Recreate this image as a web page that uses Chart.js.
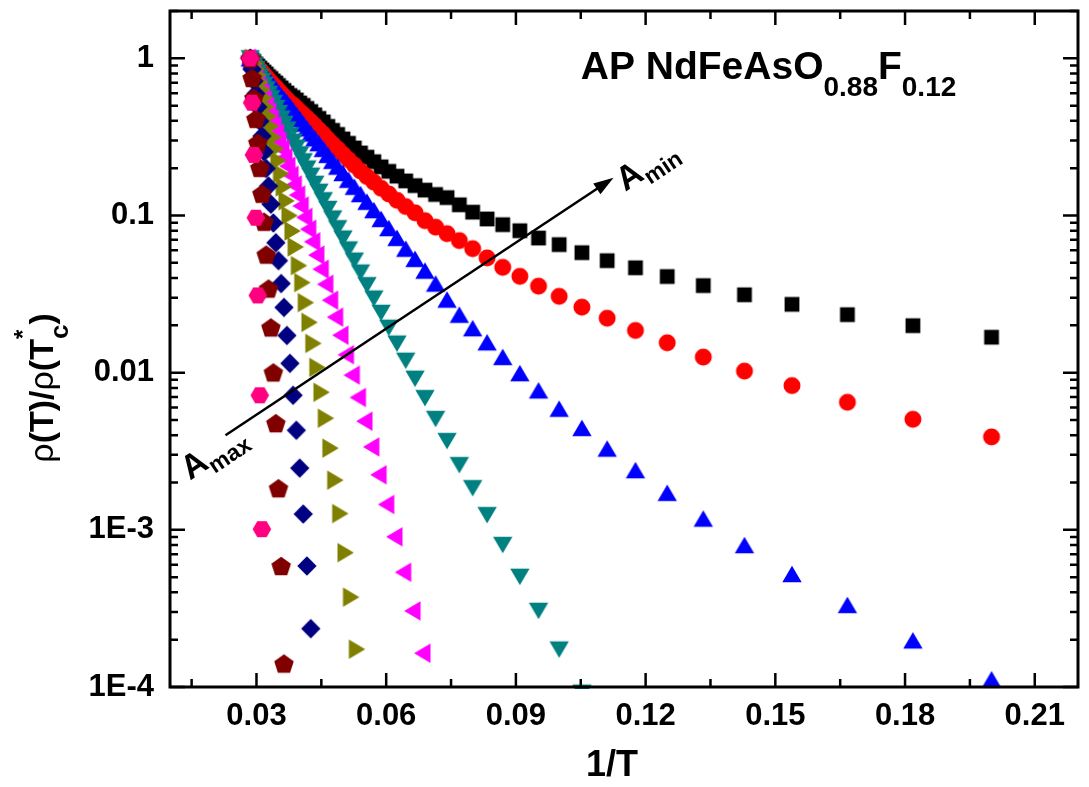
<!DOCTYPE html>
<html><head><meta charset="utf-8">
<script src="https://cdn.jsdelivr.net/npm/chart.js@4.4.1/dist/chart.umd.min.js"></script>
<style>html,body{margin:0;padding:0;background:#fff;}canvas{display:block;}</style>
</head><body>
<canvas id="c" width="1089" height="787" style="width:1089px;height:787px"></canvas>
<script>
// x values: 1/T for T = 35, 34.5, ..., 5 K
const invT = [0.028571,0.028986,0.029412,0.029851,0.030303,0.030769,0.03125,0.031746,0.032258,0.032787,
  0.033333,0.033898,0.034483,0.035088,0.035714,0.036364,0.037037,0.037736,0.038462,0.039216,
  0.04,0.040816,0.041667,0.042553,0.043478,0.044444,0.045455,0.046512,0.047619,0.04878,
  0.05,0.051282,0.052632,0.054054,0.055556,0.057143,0.058824,0.060606,0.0625,0.064516,
  0.066667,0.068966,0.071429,0.074074,0.076923,0.08,0.083333,0.086957,0.090909,0.095238,
  0.1,0.105263,0.111111,0.117647,0.125,0.133333,0.142857,0.153846,0.166667,0.181818,0.2];

const blackSquares = [1,0.975,0.947,0.920,0.894,0.868,0.843,0.818,0.795,0.766,
  0.744,0.718,0.697,0.672,0.648,0.625,0.602,0.580,0.564,0.543,
  0.520,0.502,0.480,0.459,0.437,0.415,0.394,0.369,0.348,0.328,
  0.307,0.288,0.269,0.250,0.235,0.220,0.204,0.191,0.178,0.166,
  0.155,0.145,0.136,0.130,0.117,0.105,0.095,0.0874,0.080,0.0719,
  0.0653,0.058,0.0516,0.0465,0.0409,0.0358,0.0313,0.0272,0.0234,0.0199,0.0168];
const redCircles = [1,0.970,0.938,0.905,0.874,0.844,0.815,0.787,0.760,0.727,
  0.702,0.673,0.650,0.623,0.596,0.570,0.546,0.522,0.504,0.482,
  0.458,0.438,0.416,0.395,0.372,0.350,0.329,0.305,0.284,0.265,
  0.245,0.2265,0.209,0.192,0.177,0.163,0.149,0.137,0.125,0.114,
  0.104,0.0927,0.0843,0.0766,0.0692,0.0615,0.0537,0.0468,0.0410,0.0355,
  0.0306,0.0261,0.0222,0.01856,0.01549,0.01256,0.01023,0.00827,0.00648,0.00505,0.0039];
const blueUpTriangles = [1,0.968,0.938,0.907,0.877,0.849,0.818,0.789,0.759,0.729,
  0.701,0.669,0.638,0.607,0.576,0.551,0.524,0.495,0.466,0.438,
  0.411,0.384,0.358,0.3325,0.3097,0.2886,0.2655,0.2432,0.2228,0.2047,
  0.1864,0.1688,0.1524,0.1369,0.1224,0.1082,0.0951,0.0832,0.0721,0.0615,
  0.053,0.0446,0.0369,0.0292,0.0234,0.0192,0.0156,0.0126,0.00994,0.00772,
  0.0059,0.00445,0.00329,0.0024,0.00172,0.00118,0.0008,0.000524,0.000333,0.000198,0.000112];
const tealDownTriangles = [1,0.950,0.903,0.855,0.808,0.763,0.719,0.678,0.635,0.594,
  0.557,0.519,0.483,0.449,0.414,0.383,0.352,0.324,0.295,0.270,
  0.245,0.221,0.199,0.179,0.159,0.1415,0.125,0.110,0.0956,0.0829,
  0.0713,0.0608,0.0516,0.0433,0.036,0.0296,0.024,0.0193,0.0153,0.0119,
  0.00914,0.00688,0.00507,0.00367,0.00258,0.00184,0.00124,0.0008,0.000502,0.000305,
  0.000173,0.000092];
const magentaLeftTriangles = [1,0.936,0.875,0.815,0.756,0.700,0.646,0.595,0.544,0.497,
  0.454,0.4105,0.371,0.334,0.297,0.265,0.234,0.206,0.180,0.1565,
  0.135,0.115,0.0972,0.0818,0.0681,0.056,0.0455,0.0365,0.0289,0.02255,
  0.0173,0.013,0.00964,0.00695,0.00491,0.00337,0.00224,0.00145,0.000903,0.000537,
  0.000305,0.000164];
const oliveRightTriangles = [1,0.929,0.856,0.781,0.706,0.632,0.5605,0.492,0.428,0.369,
  0.315,0.266,0.223,0.185,0.152,0.124,0.0999,0.0797,0.0631,0.048,
  0.0374,0.0279,0.0209,0.01535,0.0108,0.0075,0.00513,0.00331,0.00207,0.00127,
  0.000716,0.000373,0.000174];
const navyDiamonds = [1,0.851,0.717,0.596,0.490,0.398,0.320,0.254,0.199,0.154,
  0.118,0.0896,0.0671,0.0516,0.0369,0.026,0.01725,0.01146,0.00718,0.0043,
  0.00247,0.00126,0.000589,0.000235];
const maroonPentagons = [1,0.750,0.560,0.412,0.290,0.201,0.1375,0.0913,0.0564,0.0343,
  0.0194,0.01004,0.00477,0.00184,0.000589,0.000141];
const pinkHexagons = [1,0.522,0.243,0.0968,0.031,0.00718,0.00101];

const xTickValues = [0.03,0.06,0.09,0.12,0.15,0.18,0.21];
const xTickLabels = ['0.03','0.06','0.09','0.12','0.15','0.18','0.21'];
const xMinorTicks = [0.015,0.045,0.075,0.105,0.135,0.165,0.195];
const yTickValues = [1e-4,1e-3,0.01,0.1,1];
const yTickLabels = ['1E-4','1E-3','0.01','0.1','1'];

// annotation anchors (data coordinates)
const arrowFrom = {x:0.02284, y:0.0040};
const arrowTo = {x:0.11258, y:0.1738};
const aMaxAt = {x:0.0146, y:0.00205};
const aMinAt = {x:0.1153, y:0.1410};
const titleAt = {x:0.1050, y:0.74};

const FONT = "'Liberation Sans', Arial, Helvetica, sans-serif";
const fnt = (s, w) => `${w || 'bold'} ${s}px ${FONT}`;

function marker(shape, color) {
  const S = 28, c = document.createElement('canvas');
  c.width = S; c.height = S;
  const g = c.getContext('2d');
  const cx = S/2, cy = S/2;
  g.fillStyle = color;
  g.beginPath();
  if (shape === 'square') g.rect(cx-7.4, cy-7.4, 14.8, 14.8);
  else if (shape === 'circle') g.arc(cx, cy, 8.5, 0, Math.PI*2);
  else if (shape === 'triUp') { g.moveTo(cx, cy-8.3); g.lineTo(cx+9.7, cy+8.3); g.lineTo(cx-9.7, cy+8.3); }
  else if (shape === 'triDown') { g.moveTo(cx-9.7, cy-8.3); g.lineTo(cx+9.7, cy-8.3); g.lineTo(cx, cy+8.3); }
  else if (shape === 'triLeft') { g.moveTo(cx-10.9, cy); g.lineTo(cx+5.5, cy-9.7); g.lineTo(cx+5.5, cy+9.7); }
  else if (shape === 'triRight') { g.moveTo(cx+10.9, cy); g.lineTo(cx-5.5, cy-9.7); g.lineTo(cx-5.5, cy+9.7); }
  else if (shape === 'diamond') { g.moveTo(cx, cy-9.7); g.lineTo(cx+9.7, cy); g.lineTo(cx, cy+9.7); g.lineTo(cx-9.7, cy); }
  else if (shape === 'pentagon') {
    const R = 10.3, oy = 0.0955*R;
    for (let k=0;k<5;k++){ const a=(-90+72*k)*Math.PI/180; const px=cx+R*Math.cos(a), py=cy+oy+R*Math.sin(a); k?g.lineTo(px,py):g.moveTo(px,py); }
  } else if (shape === 'hexagon') {
    const R = 9.3;
    for (let k=0;k<6;k++){ const a=(60*k)*Math.PI/180; const px=cx+R*Math.cos(a), py=cy+R*Math.sin(a); k?g.lineTo(px,py):g.moveTo(px,py); }
  }
  g.closePath(); g.fill();
  return c;
}

const series = [
  {name:'A1', vals:blackSquares, shape:'square', color:'#000000'},
  {name:'A2', vals:redCircles, shape:'circle', color:'#FF0000'},
  {name:'A3', vals:blueUpTriangles, shape:'triUp', color:'#0000FF'},
  {name:'A4', vals:tealDownTriangles, shape:'triDown', color:'#008080'},
  {name:'A5', vals:magentaLeftTriangles, shape:'triLeft', color:'#FF00FF'},
  {name:'A6', vals:oliveRightTriangles, shape:'triRight', color:'#808000'},
  {name:'A7', vals:navyDiamonds, shape:'diamond', color:'#000080'},
  {name:'A8', vals:maroonPentagons, shape:'pentagon', color:'#800000'},
  {name:'A9', vals:pinkHexagons, shape:'hexagon', color:'#FF0080'}
];

const datasets = series.map((s, k) => ({
  label: s.name,
  data: s.vals.map((v, i) => ({x: invT[i], y: v})),
  pointStyle: marker(s.shape, s.color),
  pointRadius: 10,
  backgroundColor: s.color,
  borderColor: s.color,
  showLine: false,
  order: series.length - k,
  clip: {left: 20, top: 20, right: 20, bottom: 2}
}));

function runWidth(ctx, parts) {
  let w = 0;
  for (const p of parts) { ctx.font = fnt(p.s, p.w); if (!p.stack) w += ctx.measureText(p.t).width; }
  return w;
}
function drawRun(ctx, parts, x, y) {
  let cx = x, lastW = 0;
  for (const p of parts) {
    ctx.font = fnt(p.s, p.w);
    const w = ctx.measureText(p.t).width;
    if (p.stack) { ctx.fillText(p.t, cx - lastW, y + (p.dy || 0)); }
    else { ctx.fillText(p.t, cx, y + (p.dy || 0)); lastW = w; cx += w; }
  }
}

const decor = {
  id: 'decor',
  afterDatasetsDraw(chart) {
    const {ctx, chartArea: a, scales: {x, y}} = chart;
    ctx.save();
    ctx.strokeStyle = '#000'; ctx.fillStyle = '#000';
    // ticks (inward, all four sides)
    ctx.lineWidth = 2.5;
    ctx.beginPath();
    const xt = (v, len) => { const p = x.getPixelForValue(v); ctx.moveTo(p, a.bottom); ctx.lineTo(p, a.bottom - len); ctx.moveTo(p, a.top); ctx.lineTo(p, a.top + len); };
    xTickValues.forEach(v => xt(v, 14));
    xMinorTicks.forEach(v => xt(v, 8));
    const yt = (v, len) => { const p = y.getPixelForValue(v); ctx.moveTo(a.left, p); ctx.lineTo(a.left + len, p); ctx.moveTo(a.right, p); ctx.lineTo(a.right - len, p); };
    yTickValues.forEach(v => yt(v, 15));
    yTickValues.forEach(d => { for (let m = 2; m <= 9; m++) { const v = d * m; if (v <= y.max) yt(v, 8); } });
    ctx.stroke();
    // frame
    ctx.lineWidth = 3;
    ctx.strokeRect(a.left, a.top, a.right - a.left, a.bottom - a.top);

    // arrow
    const sx = x.getPixelForValue(arrowFrom.x), sy = y.getPixelForValue(arrowFrom.y);
    const ex = x.getPixelForValue(arrowTo.x), ey = y.getPixelForValue(arrowTo.y);
    const ang = Math.atan2(ey - sy, ex - sx);
    const hl = 20, hw = 6.5;
    const bx = ex - hl * Math.cos(ang), by = ey - hl * Math.sin(ang);
    ctx.lineWidth = 2.5;
    ctx.beginPath(); ctx.moveTo(sx, sy); ctx.lineTo(bx + 2*Math.cos(ang), by + 2*Math.sin(ang)); ctx.stroke();
    ctx.beginPath();
    ctx.moveTo(ex, ey);
    ctx.lineTo(bx + hw * Math.sin(ang), by - hw * Math.cos(ang));
    ctx.lineTo(bx - hw * Math.sin(ang), by + hw * Math.cos(ang));
    ctx.closePath(); ctx.fill();

    ctx.textAlign = 'left'; ctx.textBaseline = 'alphabetic';
    // A_max / A_min
    const lab = (pt, sub) => {
      ctx.save();
      ctx.translate(x.getPixelForValue(pt.x), y.getPixelForValue(pt.y));
      ctx.rotate(ang);
      drawRun(ctx, [{t:'A', s:34}, {t:sub, s:23, dy:8}], 0, 0);
      ctx.restore();
    };
    lab(aMaxAt, 'max');
    lab(aMinAt, 'min');

    // title
    drawRun(ctx, [{t:'AP NdFeAsO', s:39}, {t:'0.88', s:28, dy:17}, {t:'F', s:39}, {t:'0.12', s:28, dy:17}],
      x.getPixelForValue(titleAt.x), y.getPixelForValue(titleAt.y));

    // axis titles
    ctx.font = fnt(36); ctx.textAlign = 'center';
    ctx.fillText('1/T', 612, 776);
    ctx.textAlign = 'left';
    const yParts = [{t:'\u03C1', s:34, w:'normal'}, {t:'(T)/', s:34}, {t:'\u03C1', s:34, w:'normal'}, {t:'(T', s:34},
      {t:'c', s:26, dy:15}, {t:'*', s:24, dy:-22, stack:true}, {t:')', s:34}];
    const W = runWidth(ctx, yParts);
    ctx.save();
    ctx.translate(53, 388);
    ctx.rotate(-Math.PI / 2);
    drawRun(ctx, yParts, -W / 2, 0);
    ctx.restore();
    ctx.restore();
  }
};

new Chart(document.getElementById('c'), {
  type: 'scatter',
  data: {datasets},
  options: {
    responsive: false,
    animation: false,
    events: [],
    layout: {padding: {left: 0, top: 9, right: 8, bottom: 0}},
    plugins: {legend: {display: false}, tooltip: {enabled: false}},
    scales: {
      x: {
        type: 'linear', min: 0.01, max: 0.22,
        grid: {display: false, drawTicks: false},
        border: {display: false},
        afterBuildTicks: s => { s.ticks = xTickValues.map(v => ({value: v})); },
        afterFit: s => { s.height = 100; s.paddingLeft = 0; s.paddingRight = 0; },
        ticks: {
          autoSkip: false, maxRotation: 0, padding: 11, color: '#000',
          font: {family: FONT, size: 31, weight: 'bold'},
          callback: (v, i) => xTickLabels[i]
        }
      },
      y: {
        type: 'logarithmic', min: 1e-4, max: 2,
        grid: {display: false, drawTicks: false},
        border: {display: false},
        afterBuildTicks: s => { s.ticks = yTickValues.map(v => ({value: v})); },
        afterFit: s => { s.width = 170; s.paddingTop = 0; s.paddingBottom = 0; },
        ticks: {
          autoSkip: false, padding: 16, color: '#000',
          font: {family: FONT, size: 31, weight: 'bold'},
          callback: (v, i) => yTickLabels[i]
        }
      }
    }
  },
  plugins: [decor]
});
</script>
</body></html>
